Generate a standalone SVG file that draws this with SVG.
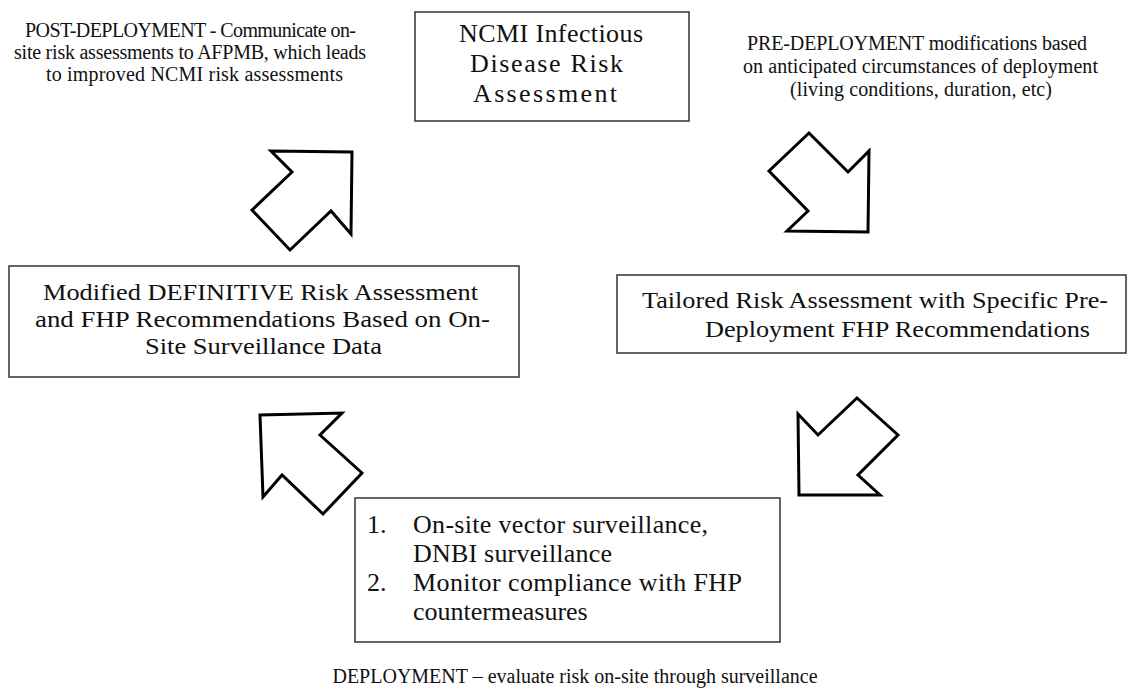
<svg xmlns="http://www.w3.org/2000/svg" width="1135" height="688" viewBox="0 0 1135 688">
<style>
.box{fill:#fff;stroke:#333;stroke-width:1.5}
.arr{fill:#fff;stroke:#000;stroke-width:3;stroke-linejoin:miter}
.big{font-family:"Liberation Serif","Times New Roman",serif;font-size:26px;fill:#111}
.mid{font-family:"Liberation Serif","Times New Roman",serif;font-size:24px;fill:#111}
.sm{font-family:"Liberation Serif","Times New Roman",serif;font-size:20px;fill:#111}
</style>
<rect width="1135" height="688" fill="#fff"/>
<g id="connectors">
<polygon class="arr" points="271,151 352,152 351,234 331,211 290,250 252,210 292,172"/>
<polygon class="arr" points="809,133 848,172 869,151 868,232 787,231 808,211 769,171"/>
<polygon class="arr" points="857,398 898,435 858,475 880,495 799,495 798,414 818,435"/>
<polygon class="arr" points="260,415 342,413 320,435 362,473 323,514 282,475 263,497"/>
</g>
<g id="post-label">
<text class="sm" x="25" y="37" textLength="331">POST-DEPLOYMENT - Communicate on-</text>
<text class="sm" x="14" y="59" textLength="352">site risk assessments to AFPMB, which leads</text>
<text class="sm" x="46" y="81" textLength="297">to improved NCMI risk assessments</text>
</g>
<g id="ncmi">
<rect class="box" x="415" y="12" width="274" height="109"/>
<text class="big" x="459" y="42" textLength="184">NCMI Infectious</text>
<text class="big" x="470" y="72" textLength="153">Disease Risk</text>
<text class="big" x="473" y="102" textLength="144">Assessment</text>
</g>
<g id="pre-label">
<text class="sm" x="747" y="50" textLength="340">PRE-DEPLOYMENT modifications based</text>
<text class="sm" x="743" y="73" textLength="355">on anticipated circumstances of deployment</text>
<text class="sm" x="790" y="96" textLength="262">(living conditions, duration, etc)</text>
</g>
<g id="modified">
<rect class="box" x="9" y="266" width="510" height="111"/>
<text class="mid" x="43" y="300" textLength="435" lengthAdjust="spacingAndGlyphs">Modified DEFINITIVE Risk Assessment</text>
<text class="mid" x="35" y="327" textLength="455" lengthAdjust="spacingAndGlyphs">and FHP Recommendations Based on On-</text>
<text class="mid" x="145" y="354" textLength="237" lengthAdjust="spacingAndGlyphs">Site Surveillance Data</text>
</g>
<g id="tailored">
<rect class="box" x="617" y="275" width="509" height="78"/>
<text class="mid" x="642" y="308" textLength="466" lengthAdjust="spacingAndGlyphs">Tailored Risk Assessment with Specific Pre-</text>
<text class="mid" x="705" y="337" textLength="385" lengthAdjust="spacingAndGlyphs">Deployment FHP Recommendations</text>
</g>
<g id="deployment">
<rect class="box" x="355" y="498" width="425" height="144"/>
<text class="big" x="367" y="533">1.</text>
<text class="big" x="413" y="533" textLength="295">On-site vector surveillance,</text>
<text class="big" x="413" y="562" textLength="199">DNBI surveillance</text>
<text class="big" x="367" y="591">2.</text>
<text class="big" x="413" y="591" textLength="329">Monitor compliance with FHP</text>
<text class="big" x="413" y="620">countermeasures</text>
</g>
<g id="deploy-label">
<text class="sm" x="575" y="683" text-anchor="middle">DEPLOYMENT – evaluate risk on-site through surveillance</text>
</g>
</svg>
